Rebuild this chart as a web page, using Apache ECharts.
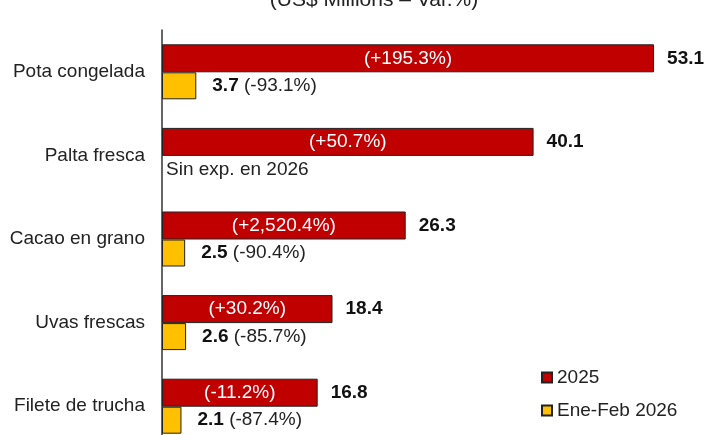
<!DOCTYPE html>
<html>
<head>
<meta charset="utf-8">
<script src="https://cdn.jsdelivr.net/npm/echarts@6/dist/echarts.min.js"></script>
<style>
    html, body { margin: 0; padding: 0; background: #fff; }
    #main { width: 707px; height: 435px; }
</style>
</head>
<body>
<div id="main"></div>
<script>
let categories = ['Pota congelada', 'Palta fresca', 'Cacao en grano', 'Uvas frescas', 'Filete de trucha']
let values2025 = [53.1, 40.1, 26.3, 18.4, 16.8]
let var2025 = ['+195.3%', '+50.7%', '+2,520.4%', '+30.2%', '-11.2%']
let values2026 = [3.7, 0, 2.5, 2.6, 2.1]
let var2026 = ['-93.1%', null, '-90.4%', '-85.7%', '-87.4%']

let font = 'Liberation Sans, Arial, sans-serif'
let fs = 19
let chart = echarts.init(document.getElementById('main'))

let option = {
    animation: false,
    title: {
        text: '(US$ Millions – Var.%)',
        left: 369,
        textAlign: 'center',
        top: -15,
        textStyle: { fontFamily: font, fontSize: 21, fontWeight: 'normal', color: '#222' }
    },
    legend: {
        data: ['2025', 'Ene-Feb 2026'],
        orient: 'vertical',
        left: 536,
        top: 363,
        itemWidth: 10,
        itemHeight: 10,
        itemGap: 14,
        icon: 'rect',
        textStyle: { fontFamily: font, fontSize: fs, color: '#222' }
    },
    grid: { left: 162, top: 30, width: 556, height: 418, outerBoundsMode: 'none' },
    xAxis: {
        type: 'value',
        min: 0,
        max: 60,
        show: false
    },
    yAxis: {
        type: 'category',
        data: categories,
        inverse: true,
        axisLine: { lineStyle: { color: '#333', width: 1.5 } },
        axisTick: { show: false },
        axisLabel: { fontFamily: font, fontSize: fs, color: '#222', margin: 17 }
    },
    series: [
        {
            name: '2025',
            type: 'bar',
            stack: 'a',
            data: values2025,
            barWidth: 28,
            barGap: '0%',
            itemStyle: { color: '#C00000', borderColor: '#222', borderWidth: 1 },
            label: {
                show: true,
                position: 'inside',
                fontFamily: font,
                fontSize: fs,
                color: '#fff',
                formatter: (p) => '(' + var2025[p.dataIndex] + ')'
            }
        },
        {
            name: 'val2025',
            type: 'bar',
            stack: 'a',
            data: values2025.map(() => 0),
            barWidth: 28,
            barGap: '0%',
            itemStyle: { color: 'transparent', borderWidth: 0 },
            label: {
                show: true,
                position: 'right',
                distance: 13,
                fontFamily: font,
                fontSize: fs,
                fontWeight: 'bold',
                color: '#111',
                formatter: (p) => values2025[p.dataIndex].toFixed(1)
            }
        },
        {
            name: 'Ene-Feb 2026',
            type: 'bar',
            data: values2026.map((v, i) => var2026[i] === null
                ? { value: v, itemStyle: { borderWidth: 0 }, label: { distance: 4 } } : v),
            barWidth: 27,
            barGap: '0%',
            itemStyle: { color: '#FFC000', borderColor: '#222', borderWidth: 1 },
            label: {
                show: true,
                position: 'right',
                distance: 16,
                fontFamily: font,
                fontSize: fs,
                color: '#222',
                formatter: (p) => {
                    let i = p.dataIndex
                    if (var2026[i] === null) return 'Sin exp. en 2026'
                    return '{b|' + values2026[i].toFixed(1) + '} (' + var2026[i] + ')'
                },
                rich: {
                    b: { fontFamily: font, fontSize: fs, fontWeight: 'bold', color: '#111' }
                }
            }
        }
    ]
}
chart.setOption(option)
</script>
</body>
</html>
